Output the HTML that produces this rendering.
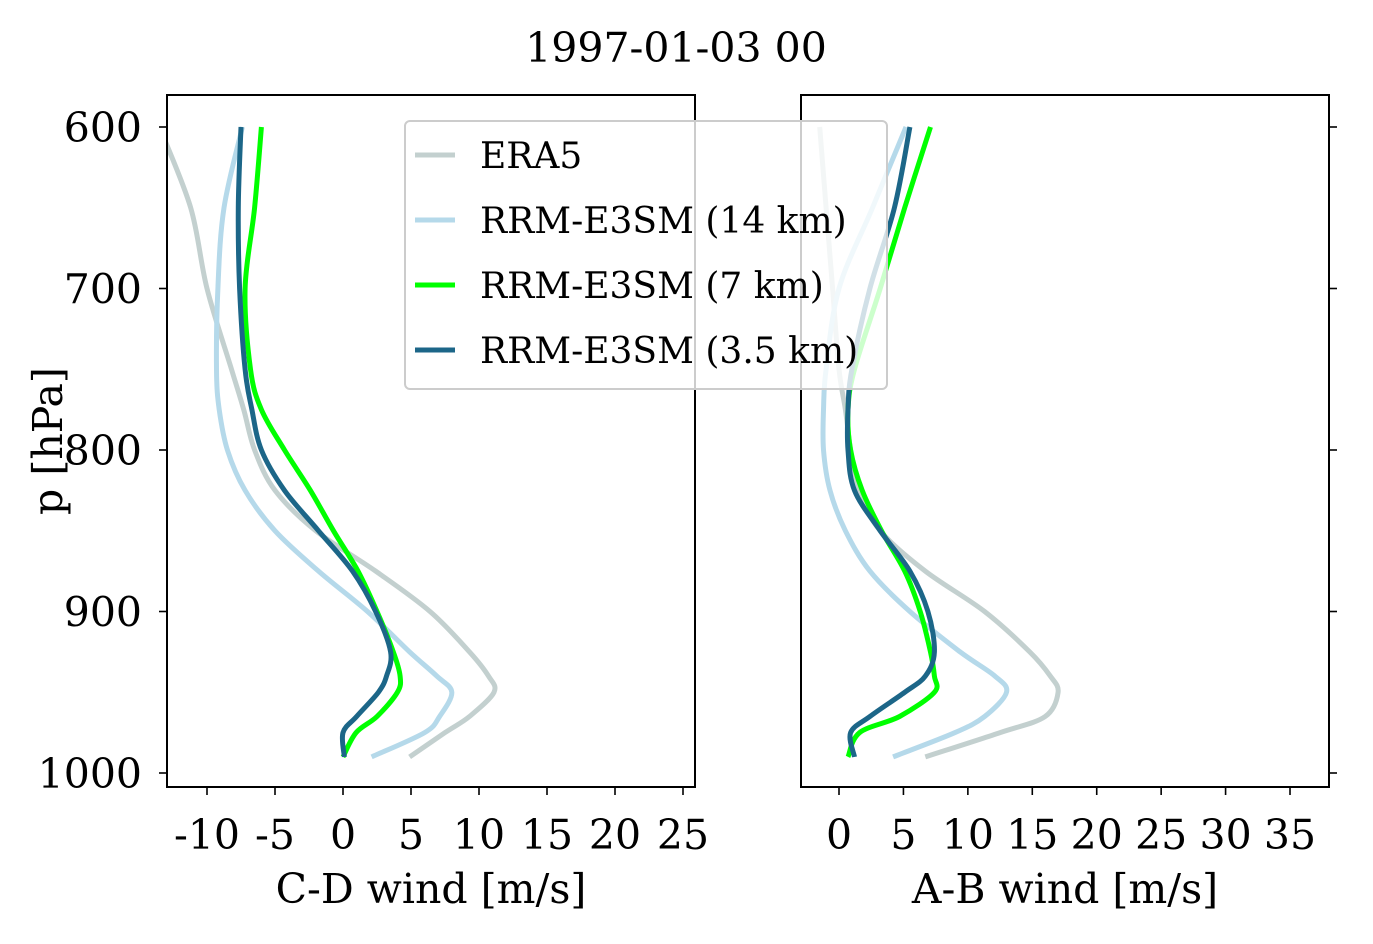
<!DOCTYPE html>
<html><head><meta charset="utf-8"><style>
body{margin:0;background:#fff}
svg{display:block;font-family:"DejaVu Serif","Liberation Serif",serif}
</style></head><body>
<svg id="chart" width="1373" height="944" viewBox="0 0 1373 944" xmlns="http://www.w3.org/2000/svg">
<defs>
<clipPath id="clipL"><rect x="167" y="95" width="528" height="692"/></clipPath>
<clipPath id="clipR"><rect x="801" y="95" width="528" height="692"/></clipPath>
</defs>
<text x="676" y="62" font-size="41" text-anchor="middle">1997-01-03 00</text>
<g id="gL"></g>
<g id="gR"></g>
<g>
<rect x="405" y="121" width="482" height="268" rx="5" fill="#fff" fill-opacity="0.8" stroke="#ccc" stroke-width="2"/>
<g id="legendItems"></g>
</g>
</svg>
<script>
const pressure=[600,650,700,750,775,800,825,850,875,900,925,940,950,965,975,990];
const seriesNames=["ERA5","RRM-E3SM (14 km)","RRM-E3SM (7 km)","RRM-E3SM (3.5 km)"];
const seriesColors=["#c3d0cf","#b5d9ea","#00ff00","#1c6688"];
const cdEra5=[-13.5,-11.2,-10,-8.2,-7.3,-6.5,-5,-2,2.4,6.4,9.3,10.7,11.1,9.3,7.5,4.9];
const cd14=[-7.4,-8.75,-9.2,-9.3,-9.1,-8.5,-7.2,-5,-1.8,1.8,4.9,6.9,8.0,7.1,6.0,2.1];
const cd7=[-6.0,-6.5,-7.2,-6.8,-6.0,-4.3,-2.4,-0.7,1.1,2.5,3.7,4.2,4.0,2.5,0.96,0];
const cd35=[-7.5,-7.7,-7.6,-7.2,-6.7,-6.0,-4.3,-1.8,0.7,2.4,3.5,3.2,2.6,1.0,0,0.1];
const abEra5=[-1.5,-1.0,-0.5,0,0.5,0.9,1.5,3.2,6.7,11.3,14.8,16.4,17,16,12.5,6.7];
const ab14=[5.2,2.6,0,-1.0,-1.2,-1.2,-0.7,0.5,2.4,5.5,9.4,12.1,13.0,11.3,9,4.2];
const ab7=[7.1,5.1,3.2,1.2,0.7,0.9,1.8,3.3,5.1,6.3,7.1,7.4,7.4,4.7,1.6,0.7];
const ab35=[5.5,4.3,2.4,1.0,0.7,0.7,1.2,3.2,5.5,6.9,7.4,6.7,5.1,2.4,0.9,1.2];
const yTicks=[600,700,800,900,1000];
const cdTicks=[-10,-5,0,5,10,15,20,25];
const abTicks=[0,5,10,15,20,25,30,35];
const NS="http://www.w3.org/2000/svg";
const yS=p=>127+(p-600)*646/400;
const xL=v=>343+v*13.6;
const xR=v=>839+v*12.886;
function mk(tag,attrs,parent){const e=document.createElementNS(NS,tag);for(const k in attrs)e.setAttribute(k,attrs[k]);parent.appendChild(e);return e;}
function smooth(pts){
  let d="M"+pts[0][0].toFixed(1)+","+pts[0][1].toFixed(1);
  for(let i=0;i<pts.length-1;i++){
    const p0=pts[i-1]||pts[i],p1=pts[i],p2=pts[i+1],p3=pts[i+2]||p2;
    const c1=[p1[0]+(p2[0]-p0[0])/6,p1[1]+(p2[1]-p0[1])/6];
    const c2=[p2[0]-(p3[0]-p1[0])/6,p2[1]-(p3[1]-p1[1])/6];
    d+=" C"+c1.map(v=>v.toFixed(1))+" "+c2.map(v=>v.toFixed(1))+" "+p2.map(v=>v.toFixed(1));
  }
  return d;
}
function panel(g,x0,xs,ticks,label,clip,data,leftLabels){
  data.forEach((arr,i)=>{
    const d=smooth(arr.map((v,j)=>[xs(v),yS(pressure[j])]));
    const p=mk("path",{d:d,fill:"none",stroke:seriesColors[i],"stroke-width":5,"stroke-linejoin":"round","clip-path":"url(#"+clip+")"},g);
    
    
  });
  mk("rect",{x:x0,y:95,width:528,height:692,fill:"none",stroke:"#000","stroke-width":2},g);
  ticks.forEach(t=>{
    const x=xs(t);
    mk("line",{x1:x,x2:x,y1:787,y2:795,stroke:"#000","stroke-width":1.6},g);
    const tx=mk("text",{x:x,y:849,"font-size":41,"text-anchor":"middle"},g);
    tx.textContent=t;
    
    
  });
  const xl=mk("text",{x:x0+264,y:903,"font-size":41,"text-anchor":"middle"},g);
  xl.textContent=label;
  
  
  yTicks.forEach(t=>{
    const y=yS(t);
    if(leftLabels){
      mk("line",{x1:159,x2:167,y1:y,y2:y,stroke:"#000","stroke-width":1.6},g);
      const ty=mk("text",{x:142,y:y+15,"font-size":41,"text-anchor":"end"},g);
      ty.textContent=t;
      
      
    } else {
      mk("line",{x1:1329,x2:1337,y1:y,y2:y,stroke:"#000","stroke-width":1.6},g);
    }
  });
}
panel(document.getElementById("gL"),167,xL,cdTicks,"C-D wind [m/s]","clipL",[cdEra5,cd14,cd7,cd35],true);
panel(document.getElementById("gR"),801,xR,abTicks,"A-B wind [m/s]","clipR",[abEra5,ab14,ab7,ab35],false);
const yt=mk("text",{x:0,y:0,"font-size":41,"text-anchor":"middle",transform:"translate(62,441) rotate(-90)"},document.getElementById("chart"));
yt.textContent="p [hPa]";


const lg=document.getElementById("legendItems");
seriesNames.forEach((n,i)=>{
  const y=155+i*65;
  const l=mk("line",{x1:415,x2:455,y1:y,y2:y,stroke:seriesColors[i],"stroke-width":5},lg);
  
  
  const t=mk("text",{x:480,y:y+13,"font-size":36},lg);
  t.textContent=n;
  
  
});
</script>
</body></html>
